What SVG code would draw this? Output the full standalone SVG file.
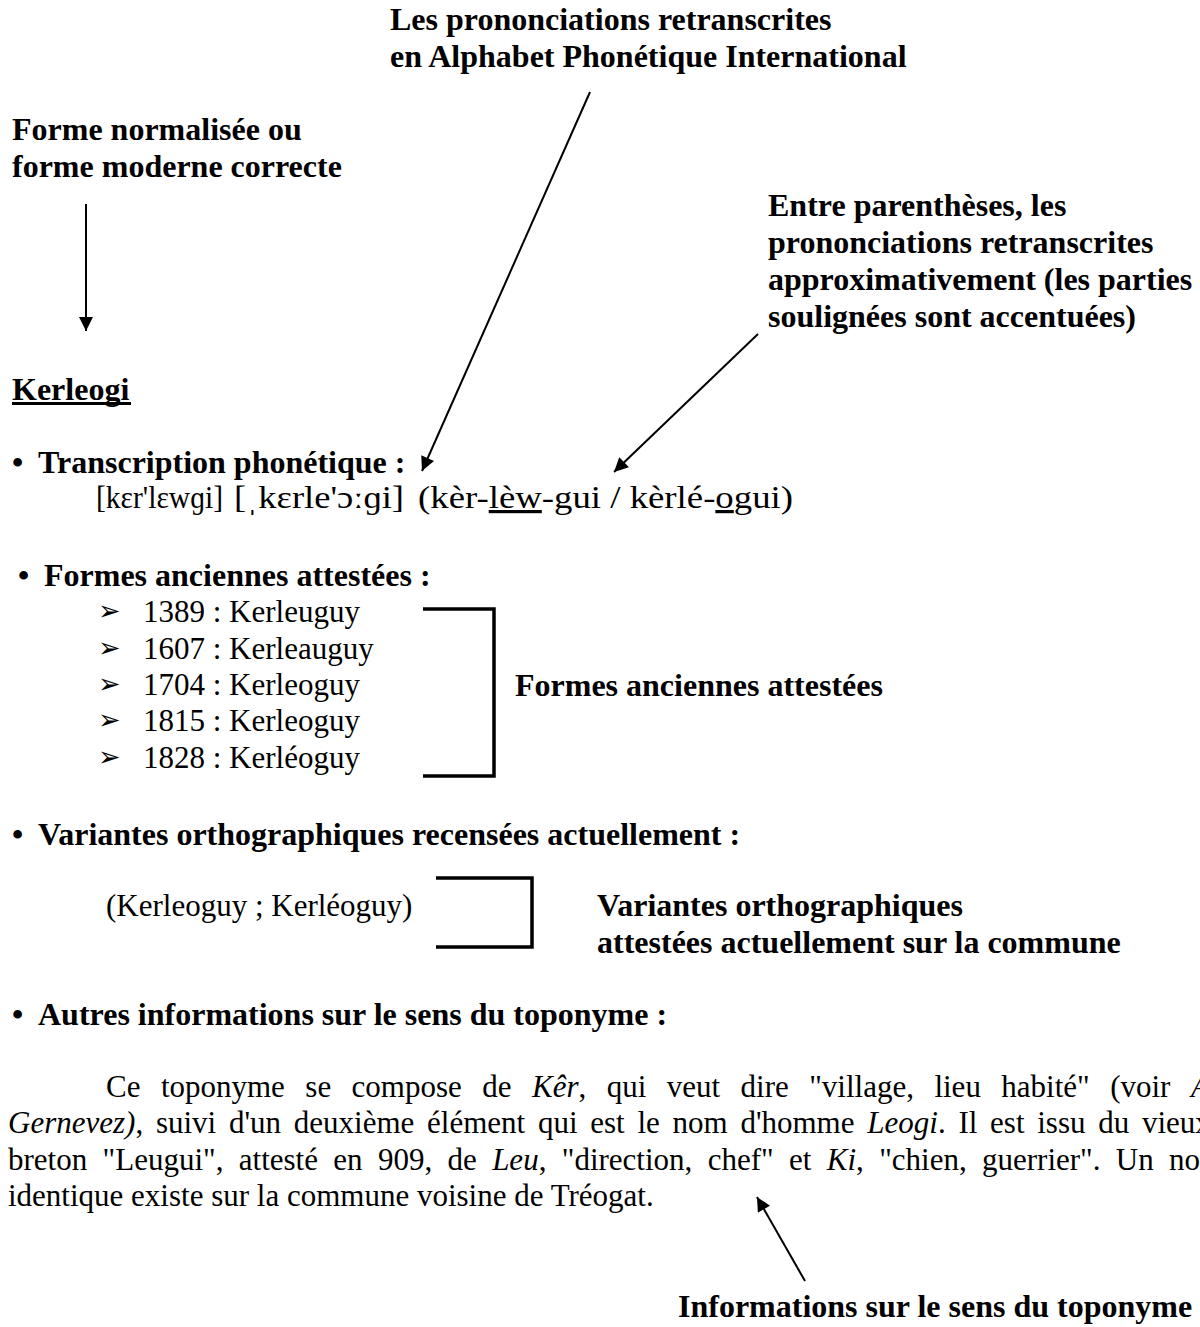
<svg xmlns="http://www.w3.org/2000/svg" width="1200" height="1327" viewBox="0 0 1200 1327">
<style>
text{font-family:"Liberation Serif","Times New Roman",serif;fill:#000}
.b{font-weight:bold;font-size:32px}
.r{font-size:31px}
.i{font-style:italic}
.ar{font-family:"DejaVu Sans",sans-serif;font-size:27px}
.ln{stroke:#000;stroke-width:2;fill:none}
.br{stroke:#000;stroke-width:3.5;fill:none}
</style>
<defs>
<marker id="ah" viewBox="0 0 10 10" refX="10" refY="5" markerWidth="8" markerHeight="7" markerUnits="strokeWidth" orient="auto">
<path d="M0,0 L10,5 L0,10 z" fill="#000"/>
</marker>
</defs>
<rect width="1200" height="1327" fill="#fff"/>

<g id="label-api">
<text class="b" x="390" y="30">Les prononciations retranscrites</text>
<text class="b" x="390" y="67">en Alphabet Phonétique International</text>
</g>
<g id="label-forme">
<text class="b" x="12" y="140">Forme normalisée ou</text>
<text class="b" x="12" y="177">forme moderne correcte</text>
</g>
<g id="label-parentheses">
<text class="b" x="768" y="216">Entre parenthèses, les</text>
<text class="b" x="768" y="253">prononciations retranscrites</text>
<text class="b" x="768" y="290">approximativement (les parties</text>
<text class="b" x="768" y="327">soulignées sont accentuées)</text>
</g>
<g id="title">
<text class="b" x="12" y="400">Kerleogi</text>
<rect x="12" y="402" width="119" height="3" fill="#000"/>
</g>
<g id="transcription">
<text class="b" x="12" y="473">•</text>
<text class="b" x="38" y="473">Transcription phonétique :</text>
<text class="r" x="96" y="508" textLength="127" lengthAdjust="spacingAndGlyphs">[kɛr'lɛwɡi]</text>
<text class="r" x="234" y="508" textLength="170" lengthAdjust="spacingAndGlyphs">[ˌkɛrle'ɔːɡi]</text>
<text class="r" x="418" y="508" style="font-size:32px" textLength="375" lengthAdjust="spacingAndGlyphs">(kèr-<tspan text-decoration="underline">lèw</tspan>-gui / kèrlé-<tspan text-decoration="underline">o</tspan>gui)</text>
</g>
<g id="formes">
<text class="b" x="18" y="586">•</text>
<text class="b" x="44" y="586">Formes anciennes attestées :</text>
<text class="ar" x="98" y="620">➢</text><text class="r" x="143" y="622">1389 : Kerleuguy</text>
<text class="ar" x="98" y="657">➢</text><text class="r" x="143" y="659">1607 : Kerleauguy</text>
<text class="ar" x="98" y="693">➢</text><text class="r" x="143" y="695">1704 : Kerleoguy</text>
<text class="ar" x="98" y="729">➢</text><text class="r" x="143" y="731">1815 : Kerleoguy</text>
<text class="ar" x="98" y="766">➢</text><text class="r" x="143" y="768">1828 : Kerléoguy</text>
</g>
<g id="label-formes">
<text class="b" x="515" y="696">Formes anciennes attestées</text>
</g>
<g id="variantes">
<text class="b" x="12" y="845">•</text>
<text class="b" x="38" y="845">Variantes orthographiques recensées actuellement :</text>
<text class="r" x="106" y="916">(Kerleoguy ; Kerléoguy)</text>
</g>
<g id="label-variantes">
<text class="b" x="597" y="916">Variantes orthographiques</text>
<text class="b" x="597" y="953">attestées actuellement sur la commune</text>
</g>
<g id="autres">
<text class="b" x="12" y="1025">•</text>
<text class="b" x="38" y="1025">Autres informations sur le sens du toponyme :</text>
<text class="r" x="106" y="1097" word-spacing="12.7">Ce toponyme se compose de <tspan class="i">Kêr</tspan>, qui veut dire "village, lieu habité" (voir <tspan class="i">A</tspan></text>
<text class="r" x="8" y="1133" word-spacing="5"><tspan class="i">Gernevez)</tspan>, suivi d'un deuxième élément qui est le nom d'homme <tspan class="i">Leogi</tspan>. Il est issu du vieux</text>
<text class="r" x="8" y="1170" word-spacing="7.6">breton "Leugui", attesté en 909, de <tspan class="i">Leu</tspan>, "direction, chef" et <tspan class="i">Ki</tspan>, "chien, guerrier". Un nom</text>
<text class="r" x="8" y="1206">identique existe sur la commune voisine de Tréogat.</text>
</g>
<g id="label-sens">
<text class="b" x="678" y="1317">Informations sur le sens du toponyme</text>
</g>
<g id="connectors">
<line class="ln" x1="590" y1="92" x2="422" y2="471" marker-end="url(#ah)"/>
<line class="ln" x1="758" y1="334" x2="614" y2="472" marker-end="url(#ah)"/>
<line class="ln" x1="86" y1="204" x2="86" y2="331" marker-end="url(#ah)"/>
<line class="ln" x1="805" y1="1281" x2="757" y2="1197" marker-end="url(#ah)"/>
<polyline class="br" points="423,609 494,609 494,776 423,776"/>
<polyline class="br" points="436,878 532,878 532,947 436,947"/>
</g>
</svg>
